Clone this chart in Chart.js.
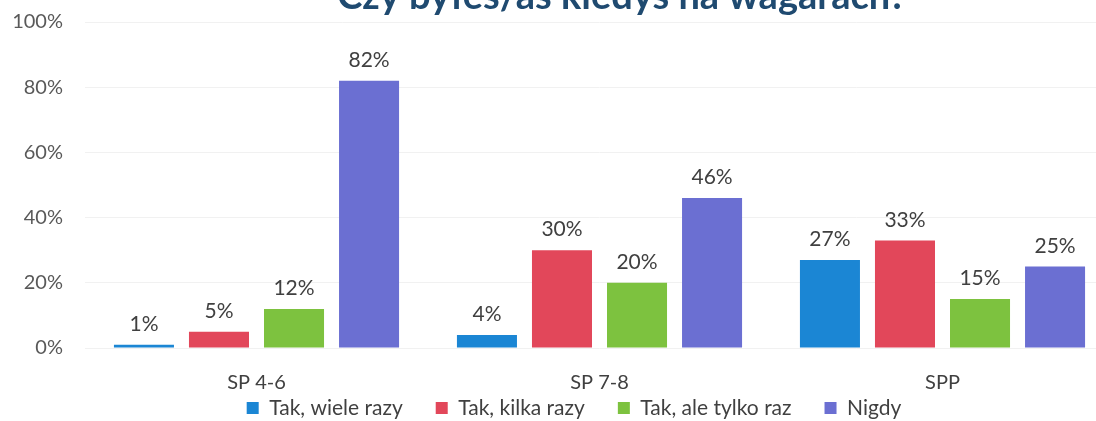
<!DOCTYPE html>
<html>
<head>
<meta charset="utf-8">
<script src="https://cdn.jsdelivr.net/npm/chart.js@4"></script>
<style>
  html, body { margin: 0; padding: 0; background: #fff; overflow: hidden; }
  #wrap { width: 1120px; height: 421px; }
</style>
</head>
<body>
<div id="wrap"><canvas id="chart" width="1120" height="421"></canvas></div>
<script>
// dane
const categories = ["SP 4-6", "SP 7-8", "SPP"];
const seriesNames = ["Tak, wiele razy", "Tak, kilka razy", "Tak, ale tylko raz", "Nigdy"];
const wieleRazy = [1, 4, 27];
const kilkaRazy = [5, 30, 33];
const tylkoRaz = [12, 20, 15];
const nigdy = [82, 46, 25];
const yTicks = [0, 20, 40, 60, 80, 100];
const titleText = "Czy byłeś/aś kiedyś na wagarach?";

const colors = ["#1b86d4", "#e2475a", "#7dc23f", "#6b6fd2"];
const fontFamily = "Lato, 'Open Sans', sans-serif";
const legendPad = 33;

// etykiety z procentami nad slupkami
const valueLabels = {
    id: 'valueLabels',
    afterDatasetsDraw(chart) {
        const ctx = chart.ctx;
        ctx.save();
        ctx.font = "21px " + fontFamily;
        ctx.fillStyle = "#404040";
        ctx.textAlign = "center";
        ctx.textBaseline = "bottom";
        chart.data.datasets.forEach((ds, i) => {
            chart.getDatasetMeta(i).data.forEach((bar, j) => {
                ctx.fillText(ds.data[j] + "%", bar.x, bar.y - 10);
            });
        });
        ctx.restore();
    }
};

// tytul uciety u gory, jak na skanie
const cutTitle = {
    id: 'cutTitle',
    afterDraw(chart) {
        const ctx = chart.ctx;
        ctx.save();
        ctx.font = "bold 38px " + fontFamily;
        ctx.fillStyle = "#1f4a70";
        ctx.textAlign = "center";
        ctx.textBaseline = "alphabetic";
        ctx.fillText(titleText, 622, 9);
        ctx.restore();
    }
};

// legenda przesunieta tak jak na oryginale
const moveLegend = {
    id: 'moveLegend',
    afterLayout(chart) {
        const l = chart.legend;
        const dx = 574 - (l.left + l.right) / 2;
        l.left += dx; l.right += dx;
        l.top = 410 - legendPad - 12.6;
        l.bottom = 421;
        l.height = l.bottom - l.top;
    }
};

const datasets = [wieleRazy, kilkaRazy, tylkoRaz, nigdy].map((values, i) => ({
    label: seriesNames[i],
    data: values,
    backgroundColor: colors[i],
    barPercentage: 0.8,
    categoryPercentage: 0.875
}));

new Chart(document.getElementById('chart'), {
    type: 'bar',
    data: { labels: categories, datasets: datasets },
    options: {
        responsive: false,
        animation: false,
        layout: { padding: { left: 0, right: 6, top: 22, bottom: -21 } },
        scales: {
            x: {
                grid: { display: false, drawTicks: false },
                border: { display: false },
                ticks: { color: "#404040", font: { family: fontFamily, size: 20 }, padding: 23 }
            },
            y: {
                min: 0,
                max: 100,
                afterBuildTicks: axis => { axis.ticks = yTicks.map(v => ({ value: v })); },
                afterFit: axis => {
                    axis.width = 85;
                    axis.paddingTop = 0;
                    axis.paddingBottom = 0;
                },
                grid: { color: "#f1f1f1", drawTicks: false },
                border: { display: false },
                ticks: {
                    color: "#595959",
                    font: { family: fontFamily, size: 20 },
                    padding: 22,
                    callback: v => v + "%"
                }
            }
        },
        plugins: {
            title: { display: false },
            legend: {
                position: 'bottom',
                maxHeight: 24,
                labels: {
                    color: "#404040",
                    font: { family: fontFamily, size: 21 },
                    boxWidth: 12,
                    boxHeight: 12,
                    padding: legendPad
                }
            },
            tooltip: { enabled: false }
        }
    },
    plugins: [valueLabels, cutTitle, moveLegend]
});
</script>
</body>
</html>
